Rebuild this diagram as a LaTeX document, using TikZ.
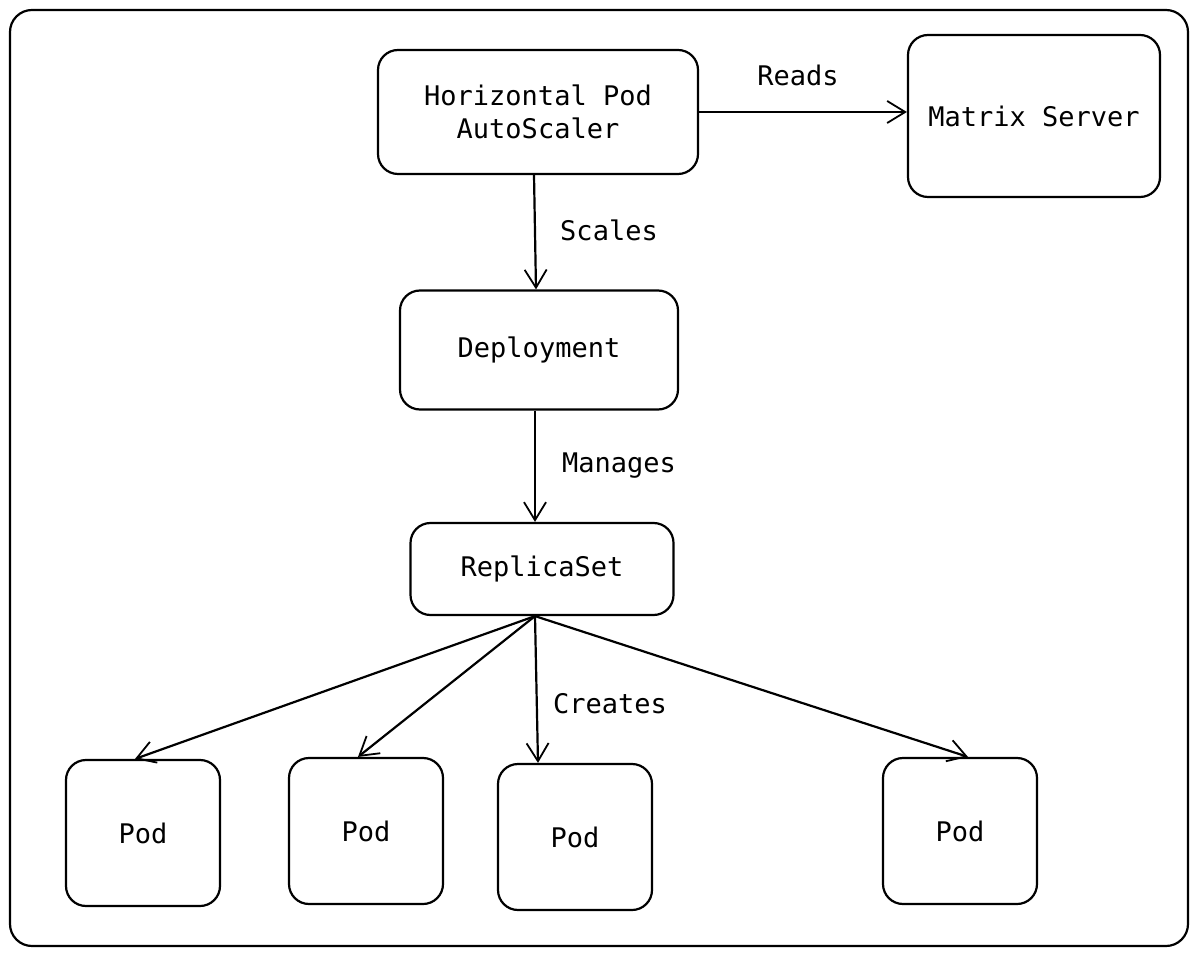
\documentclass[tikz,border=0pt]{standalone}
\usepackage{fontspec}
\setmonofont{DejaVu Sans Mono}
\usepackage{tikz}
\usetikzlibrary{arrows.meta}
\usetikzlibrary{positioning}

\begin{document}
\begin{tikzpicture}[x=0.5pt,y=-0.5pt,
box/.style={draw,line width=1.1pt,rounded corners=10pt,inner sep=0pt,align=center,
font=\ttfamily\fontsize{13.5}{16.5}\selectfont},
lbl/.style={font=\ttfamily\fontsize{13.5}{16.5}\selectfont},
conn/.style={-{Straight Barb[length=9pt,width=11pt,line width=0.9pt]},line width=1.1pt}]
\useasboundingbox (0,0) rectangle (1198,956);
\draw[line width=1.1pt,rounded corners=11pt] (10,10) rectangle (1188,946);
\node[box,minimum width=160pt,minimum height=62pt] (hpa) at (538,112) {Horizontal Pod\\AutoScaler};
\node[box,minimum width=126pt,minimum height=81pt] (ms) at (1034,116) {Matrix Server};
\node[box,minimum width=139pt,minimum height=59.5pt] (dep) at (539,350) {Deployment};
\node[box,minimum width=131.5pt,minimum height=46pt] (rs) at (542,569) {ReplicaSet};
\node[box,minimum width=77pt,minimum height=73pt] (pod1) at (143,833) {Pod};
\node[box,minimum width=77pt,minimum height=73pt] (pod2) at (366,831) {Pod};
\node[box,minimum width=77pt,minimum height=73pt] (pod3) at (575,837) {Pod};
\node[box,minimum width=77pt,minimum height=73pt] (pod4) at (960,831) {Pod};
% labels
\node[lbl] (reads) at (798,75) {Reads};
\node[lbl] (scales) at (609,230) {Scales};
\node[lbl] (manages) at (619,466) {Manages};
\node[lbl] (creates) at (610,704) {Creates};
% arrows
\draw[conn] (hpa.east) -- (ms.west |- hpa.east);
\draw[conn] ([xshift=-2pt]hpa.south) -- ([xshift=-1.5pt]dep.north);
\draw[conn] ([xshift=-2pt]dep.south) -- ([xshift=-3.5pt]rs.north);
\draw[conn] ([xshift=-3.5pt]rs.south) -- ([xshift=-4pt]pod1.north);
\draw[conn] ([xshift=-3.5pt]rs.south) -- ([xshift=-4pt]pod2.north);
\draw[conn] ([xshift=-3.5pt]rs.south) -- ([xshift=-18.5pt]pod3.north);
\draw[conn] ([xshift=-3.5pt]rs.south) -- ([xshift=4pt]pod4.north);
\end{tikzpicture}
\end{document}
